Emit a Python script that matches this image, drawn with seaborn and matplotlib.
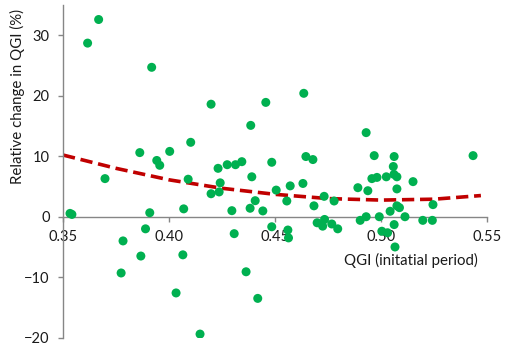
import numpy as np
import pandas as pd
import matplotlib
matplotlib.use("Agg")
import matplotlib.pyplot as plt
import seaborn as sns

# data
qgi_initial = [0.3533, 0.3542, 0.3616, 0.3668, 0.3698, 0.3774, 0.3783, 0.3867, 0.3862, 0.3889,
               0.3909, 0.3918, 0.3942, 0.3956, 0.4003, 0.4033, 0.4065, 0.4069, 0.4090, 0.4102,
               0.4146, 0.4198, 0.4198, 0.4231, 0.4236, 0.4241, 0.4274, 0.4296, 0.4307, 0.4313,
               0.4343, 0.4363, 0.4385, 0.4382, 0.4390, 0.4406, 0.4418, 0.4442, 0.4456, 0.4484,
               0.4484, 0.4505, 0.4555, 0.4560, 0.4563, 0.4571, 0.4631, 0.4635, 0.4645, 0.4678,
               0.4683, 0.4698, 0.4724, 0.4733, 0.4731, 0.4767, 0.4778, 0.4795, 0.4890, 0.4901,
               0.4929, 0.4929, 0.4937, 0.4956, 0.4967, 0.4980, 0.4991, 0.5003, 0.5024, 0.5030,
               0.5042, 0.5057, 0.5061, 0.5060, 0.5061, 0.5065, 0.5074, 0.5074, 0.5074, 0.5086,
               0.5112, 0.5150, 0.5196, 0.5241, 0.5244, 0.5433]
rel_change = [0.55, 0.38, 28.7, 32.6, 6.3, -9.3, -4.0, -6.5, 10.6, -2.0,
              0.66, 24.7, 9.3, 8.5, 10.8, -12.6, -6.3, 1.3, 6.2, 12.3,
              -19.4, 3.8, 18.6, 8.0, 4.1, 5.6, 8.6, 1.0, -2.8, 8.6,
              9.1, -9.1, 15.1, 1.4, 6.6, 2.65, -13.5, 0.96, 18.9, 9.0,
              -1.66, 4.4, 2.6, -2.2, -3.5, 5.1, 5.5, 20.4, 9.95, 9.45,
              1.8, -1.0, -1.56, -0.45, 3.37, -1.2, 2.6, -2.0, 4.8, -0.6,
              0.0, 13.9, 4.3, 6.3, 10.1, 6.5, 0.0, -2.4, 6.6, -2.65,
              0.9, 8.3, 9.95, 7.0, -1.3, -5.0, 6.6, 4.6, 1.8, 1.5,
              0.0, 5.8, -0.6, -0.6, 2.0, 10.1]

# trend line, read at a few points
trend_x = [0.35, 0.375, 0.40, 0.425, 0.45, 0.475, 0.50, 0.525, 0.547]
trend_y = [10.2, 8.0, 6.1, 4.7, 3.7, 3.0, 2.75, 2.9, 3.5]

df = pd.DataFrame({"qgi": qgi_initial, "change": rel_change})
trend = pd.DataFrame({"x": trend_x, "y": trend_y})

sns.set_style("white")
plt.rcParams["font.family"] = ["Lato", "DejaVu Sans"]
text_col = "#1a1a1a"
axis_col = "#868686"

fig = plt.figure(figsize=(5.06, 3.52), dpi=100)
ax = fig.add_axes([0.1245, 0.0406, 0.8385, 0.9452])

sns.scatterplot(data=df, x="qgi", y="change", color="#00B050", s=42,
                edgecolor="none", ax=ax, zorder=3)
sns.lineplot(data=trend, x="x", y="y", color="#C00000", lw=2.6,
             ax=ax, zorder=2, dashes=False, linestyle=(0, (3.4, 1.6)))

ax.set_xlim(0.35, 0.55)
ax.set_ylim(-20, 35)
ax.set_xticks([0.35, 0.40, 0.45, 0.50, 0.55])
ax.set_xticklabels(["0.35", "0.40", "0.45", "0.50", "0.55"])
ax.set_yticks([-20, -10, 0, 10, 20, 30])

ax.spines["top"].set_visible(False)
ax.spines["right"].set_visible(False)
ax.spines["bottom"].set_position(("data", 0))
for s in ["left", "bottom"]:
    ax.spines[s].set_color(axis_col)
    ax.spines[s].set_linewidth(1.0)

ax.tick_params(axis="both", direction="out", length=3.6, width=1.0,
               color=axis_col, labelsize=10.5, labelcolor=text_col, pad=6)
ax.tick_params(axis="y", left=True)
ax.tick_params(axis="x", bottom=True)

ax.set_ylabel("Relative change in QGI (%)", fontsize=10.8, color=text_col)
ax.yaxis.set_label_coords(-0.108, 0.724)
ax.yaxis.label.set_va("center")
ax.set_xlabel("QGI (initatial period)", fontsize=10.8, color=text_col)
ax.xaxis.set_label_coords(0.82, 0.232)
ax.xaxis.label.set_va("center")

fig.savefig("out.png", dpi=100)
